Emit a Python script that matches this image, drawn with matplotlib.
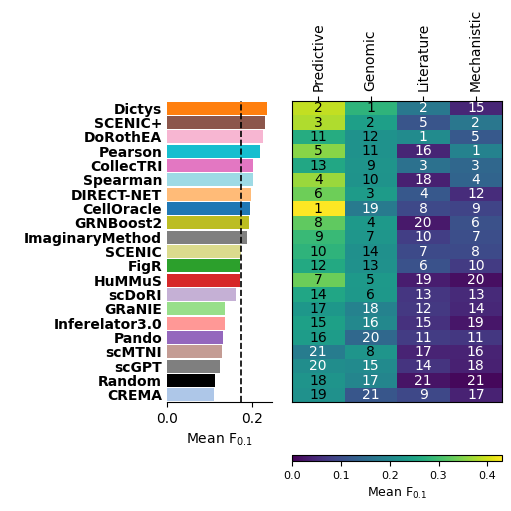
import numpy as np
import matplotlib
matplotlib.use("Agg")
import matplotlib.pyplot as plt

# methods, top to bottom
methods = ["Dictys", "SCENIC+", "DoRothEA", "Pearson", "CollecTRI", "Spearman",
           "DIRECT-NET", "CellOracle", "GRNBoost2", "ImaginaryMethod", "SCENIC",
           "FigR", "HuMMuS", "scDoRI", "GRaNIE", "Inferelator3.0", "Pando",
           "scMTNI", "scGPT", "Random", "CREMA"]

mean_f = [0.234, 0.231, 0.225, 0.218, 0.202, 0.202, 0.197, 0.195, 0.192, 0.188,
          0.174, 0.172, 0.172, 0.162, 0.136, 0.136, 0.131, 0.129, 0.124, 0.113, 0.110]

bar_colors = ["#ff7f0e", "#8c564b", "#f7b6d2", "#17becf", "#e377c2", "#9edae5",
              "#ffbb78", "#1f77b4", "#bcbd22", "#7f7f7f", "#dbdb8d", "#2ca02c",
              "#d62728", "#c5b0d5", "#98df8a", "#ff9896", "#9467bd", "#c49c94",
              "#7f7f7f", "#000000", "#aec7e8"]

ref_line = 0.174

categories = ["Predictive", "Genomic", "Literature", "Mechanistic"]

# mean F0.1 per category (columns follow categories)
predictive = [0.390, 0.378, 0.267, 0.353, 0.258, 0.365, 0.335, 0.430, 0.325, 0.292, 0.280,
              0.262, 0.333, 0.254, 0.228, 0.245, 0.238, 0.181, 0.210, 0.223, 0.218]
genomic = [0.280, 0.242, 0.219, 0.220, 0.222, 0.221, 0.236, 0.178, 0.233, 0.226, 0.216,
           0.218, 0.231, 0.229, 0.190, 0.200, 0.145, 0.224, 0.205, 0.195, 0.115]
literature = [0.172, 0.113, 0.207, 0.045, 0.160, 0.038, 0.118, 0.095, 0.030, 0.080, 0.097,
              0.108, 0.035, 0.068, 0.072, 0.061, 0.076, 0.042, 0.064, 0.022, 0.093]
mechanistic = [0.046, 0.170, 0.120, 0.190, 0.143, 0.138, 0.055, 0.088, 0.107, 0.103, 0.097,
               0.075, 0.018, 0.052, 0.048, 0.026, 0.070, 0.043, 0.039, 0.010, 0.041]

# ranks shown in the cells
rank_predictive = [2, 3, 11, 5, 13, 4, 6, 1, 8, 9, 10, 12, 7, 14, 17, 15, 16, 21, 20, 18, 19]
rank_genomic = [1, 2, 12, 11, 9, 10, 3, 19, 4, 7, 14, 13, 5, 6, 18, 16, 20, 8, 15, 17, 21]
rank_literature = [2, 5, 1, 16, 3, 18, 4, 8, 20, 10, 7, 6, 19, 13, 12, 15, 11, 17, 14, 21, 9]
rank_mechanistic = [15, 2, 5, 1, 3, 4, 12, 9, 6, 7, 8, 10, 20, 13, 14, 19, 11, 16, 18, 21, 17]

vmax = 0.43

heat = np.array([predictive, genomic, literature, mechanistic]).T
ranks = np.array([rank_predictive, rank_genomic, rank_literature, rank_mechanistic]).T

fig = plt.figure(figsize=(5.11, 5.11), dpi=100)
ax_bar = fig.add_axes([0.327, 0.2133, 0.205, 0.589])
ax_hm = fig.add_axes([0.5714, 0.2133, 0.411, 0.589])
ax_cb = fig.add_axes([0.5714, 0.0978, 0.411, 0.0117])

# barplot
y = np.arange(len(methods))
ax_bar.barh(y, mean_f, height=0.9, color=bar_colors)
ax_bar.axvline(ref_line, color="black", linestyle="--", linewidth=1.2)
ax_bar.set_ylim(len(methods) - 0.5, -0.5)
ax_bar.set_xlim(0, 0.246)
ax_bar.set_yticks(y)
ax_bar.set_yticklabels(methods, fontweight="bold", fontsize=10)
ax_bar.tick_params(axis="y", length=0)
ax_bar.set_xticks([0.0, 0.2])
ax_bar.set_xticklabels(["0.0", "0.2"], fontsize=10)
ax_bar.set_xlabel("Mean F$_{0.1}$", fontsize=10)
for s in ["top", "right", "left"]:
    ax_bar.spines[s].set_visible(False)

# heatmap
im = ax_hm.imshow(heat, cmap="viridis", vmin=0, vmax=vmax, aspect="auto")
ax_hm.set_yticks([])
ax_hm.set_xticks(np.arange(len(categories)))
ax_hm.set_xticklabels(categories, rotation=90, fontsize=10)
ax_hm.xaxis.tick_top()
for i in range(heat.shape[0]):
    for j in range(heat.shape[1]):
        c = "black" if im.norm(heat[i, j]) > 0.5 else "white"
        ax_hm.text(j, i, str(ranks[i, j]), ha="center", va="center", color=c, fontsize=10)

cb = fig.colorbar(im, cax=ax_cb, orientation="horizontal")
cb.set_ticks([0.0, 0.1, 0.2, 0.3, 0.4])
cb.ax.tick_params(labelsize=8)
cb.set_label("Mean F$_{0.1}$", fontsize=9)

fig.savefig("out.png", dpi=100)
